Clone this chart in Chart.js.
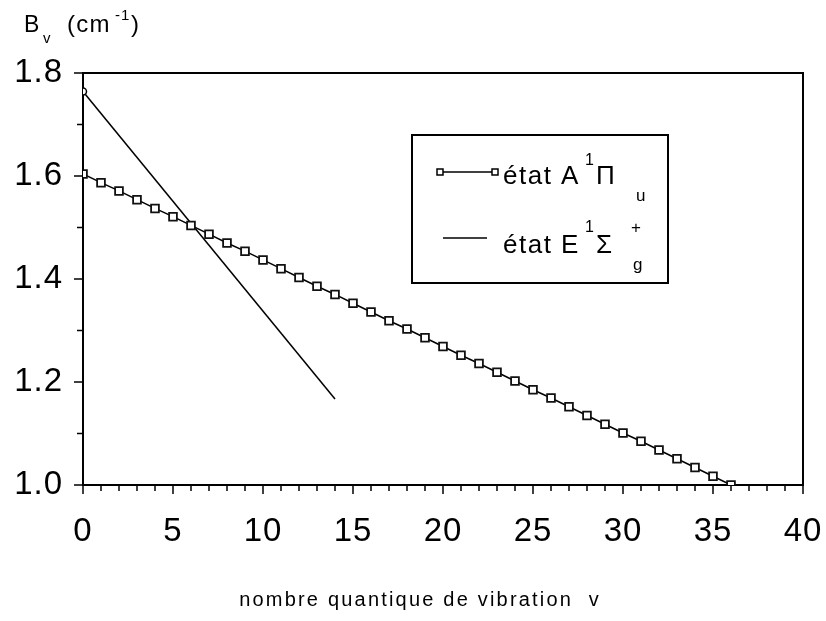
<!DOCTYPE html>
<html lang="fr">
<head>
<meta charset="UTF-8">
<title>B_v en fonction de v</title>
<script src="https://cdn.jsdelivr.net/npm/chart.js"></script>
<style>
    html, body { margin: 0; padding: 0; background: #fff; overflow: hidden; }
    canvas { display: block; }
</style>
</head>
<body>
<canvas id="chart" width="826" height="621"></canvas>
<script>
    // valeurs
    const vA = [0,1,2,3,4,5,6,7,8,9,10,11,12,13,14,15,16,17,18,19,20,21,22,23,24,25,26,27,28,29,30,31,32,33,34,35,36];
    const bvA = [1.604,1.587,1.571,1.554,1.537,1.521,1.504,1.487,1.470,1.454,1.437,1.420,1.403,1.386,1.370,1.353,1.336,1.319,1.303,1.286,1.269,1.252,1.236,1.219,1.202,1.185,1.169,1.152,1.135,1.118,1.101,1.085,1.068,1.051,1.034,1.017,1.000];
    const vE = [0, 14];
    const bvE = [1.764, 1.167];

    const FONT = '"Liberation Sans", Arial, sans-serif';

    function txt(ctx, s, x, y, size, sp) {
        ctx.font = size + 'px ' + FONT;
        ctx.letterSpacing = (sp || 0) + 'px';
        ctx.fillText(s, x, y);
        return x + ctx.measureText(s).width;
    }

    // cadre, petites graduations, titres et légende
    const decor = {
        id: 'decor',
        beforeDraw(chart) {
            chart.ctx.letterSpacing = '1px';
        },
        afterDraw(chart) {
            const ctx = chart.ctx;
            const a = chart.chartArea;
            const xs = chart.scales.x, ys = chart.scales.y;
            ctx.save();
            ctx.strokeStyle = '#000';
            ctx.fillStyle = '#000';
            ctx.lineWidth = 2;
            ctx.beginPath();
            ctx.moveTo(a.left, a.top); ctx.lineTo(a.right, a.top); ctx.lineTo(a.right, a.bottom);
            ctx.stroke();

            ctx.lineWidth = 1.5;
            for (let v = 0; v <= 40; v++) {
                const px = xs.getPixelForValue(v);
                const len = v % 5 === 0 ? 9 : 6;
                ctx.beginPath(); ctx.moveTo(px, a.bottom); ctx.lineTo(px, a.bottom + len); ctx.stroke();
            }
            for (let i = 0; i <= 8; i++) {
                const py = ys.getPixelForValue(1 + i * 0.1);
                const len = i % 2 === 0 ? 9 : 6;
                ctx.beginPath(); ctx.moveTo(a.left, py); ctx.lineTo(a.left - len, py); ctx.stroke();
            }

            // titre axe y
            ctx.textBaseline = 'alphabetic';
            ctx.textAlign = 'left';
            txt(ctx, 'B', 24, 32, 23);
            txt(ctx, 'v', 43, 43, 15);
            txt(ctx, '(cm', 67, 32, 24, 1.2);
            txt(ctx, '-1', 115, 20, 15, 1);
            txt(ctx, ')', 131, 32, 24);

            // titre axe x
            ctx.textAlign = 'center';
            txt(ctx, 'nombre quantique de vibration  v', 420, 606, 20, 2.2);
            ctx.textAlign = 'left';

            // légende
            const L = 412, T = 135, R = 668, B = 283;
            ctx.lineWidth = 2;
            ctx.strokeRect(L, T, R - L, B - T);
            ctx.lineWidth = 1.5;
            ctx.beginPath(); ctx.moveTo(440, 172); ctx.lineTo(495, 172); ctx.stroke();
            ctx.fillStyle = '#fff';
            [440, 495].forEach(px => { ctx.fillRect(px - 3, 169, 6, 6); ctx.strokeRect(px - 3, 169, 6, 6); });
            ctx.fillStyle = '#000';
            txt(ctx, 'état A', 503, 184, 26, 1.5);
            txt(ctx, '1', 585, 165, 16);
            txt(ctx, 'Π', 596, 184, 26);
            txt(ctx, 'u', 636, 201, 17);

            ctx.beginPath(); ctx.moveTo(443, 238); ctx.lineTo(487, 238); ctx.stroke();
            txt(ctx, 'état E', 503, 253, 26, 1.5);
            txt(ctx, '1', 585, 232, 16);
            txt(ctx, 'Σ', 596, 253, 26);
            txt(ctx, '+', 631, 233, 17);
            txt(ctx, 'g', 633, 270, 17);
            ctx.restore();
        }
    };

    new Chart(document.getElementById('chart'), {
        type: 'scatter',
        data: {
            datasets: [{
                label: 'état A1Πu',
                data: vA.map((v, i) => ({ x: v, y: bvA[i] })),
                showLine: true,
                borderColor: '#000',
                borderWidth: 1.5,
                pointStyle: 'rect',
                pointRadius: 5.5,
                pointBorderWidth: 1.8,
                pointBorderColor: '#111',
                pointBackgroundColor: '#fff',
                clip: 0
            }, {
                label: 'état E1Σg+',
                data: vE.map((v, i) => ({ x: v, y: bvE[i] })),
                showLine: true,
                borderColor: '#000',
                borderWidth: 1.5,
                pointStyle: 'circle',
                pointRadius: [3.5, 0],
                pointBorderWidth: 1.5,
                pointBorderColor: '#000',
                pointBackgroundColor: '#fff',
                clip: 0
            }]
        },
        options: {
            responsive: false,
            animation: false,
            devicePixelRatio: 1,
            layout: { padding: { top: 73, right: 23, left: 0, bottom: 0 } },
            plugins: { legend: { display: false }, tooltip: { enabled: false } },
            scales: {
                x: {
                    type: 'linear', min: 0, max: 40,
                    grid: { display: false, drawTicks: false },
                    border: { display: true, color: '#000', width: 2 },
                    ticks: { stepSize: 5, padding: 27, color: '#000', maxRotation: 0, font: { family: FONT, size: 33 } },
                    afterFit(s) { s.height = 136; s.paddingLeft = 0; s.paddingRight = 0; }
                },
                y: {
                    type: 'linear', min: 1.0, max: 1.8,
                    grid: { display: false, drawTicks: false },
                    border: { display: true, color: '#000', width: 2 },
                    ticks: { stepSize: 0.2, padding: 20, color: '#000', font: { family: FONT, size: 33 },
                        callback: v => v.toFixed(1) },
                    afterFit(s) { s.width = 83; }
                }
            }
        },
        plugins: [decor]
    });
</script>
</body>
</html>
